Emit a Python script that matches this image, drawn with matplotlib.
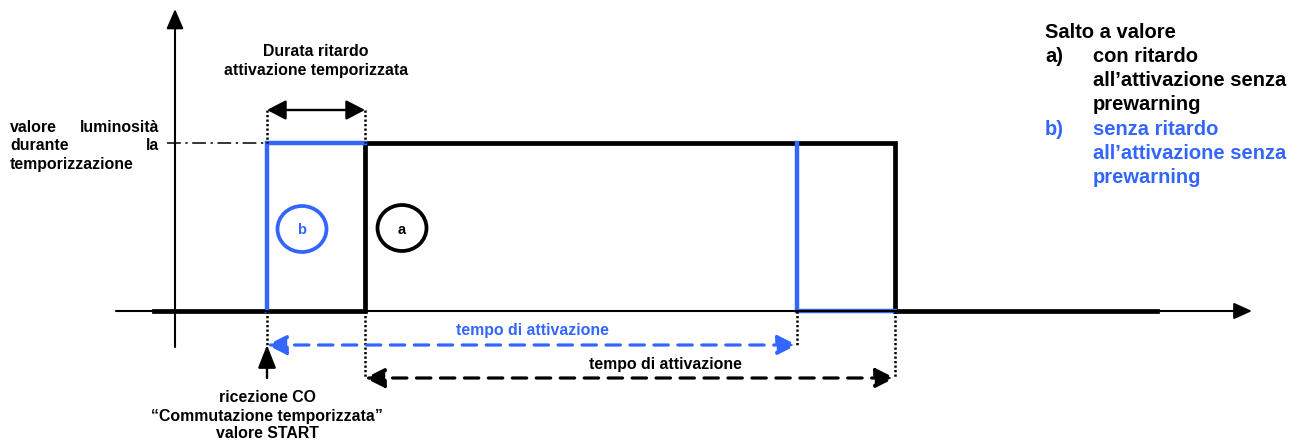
import matplotlib.pyplot as plt
from matplotlib.patches import Ellipse

plt.rcParams['font.family'] = ['Liberation Sans', 'DejaVu Sans']
plt.rcParams['font.weight'] = 'bold'

# timing events (x, pixel units of the drawing)
t_begin = 154          # signal start
t_start = 267          # START telegram received
t_delay_end = 365      # end of activation delay (case a)
t_b_end = 797          # end of activation time, case b
t_a_end = 895          # end of activation time, case a
t_end = 1157           # signal end

# levels (y)
level_off = 311
level_on = 143

# signal a: with delay, signal b: no delay
sig_a_x = [t_begin, t_delay_end, t_delay_end, t_a_end, t_a_end, t_end]
sig_a_y = [level_off, level_off, level_on, level_on, level_off, level_off]
sig_b_x1 = [t_start, t_start, t_delay_end]
sig_b_y1 = [level_off, level_on, level_on]
sig_b_x2 = [t_b_end, t_b_end, t_a_end]
sig_b_y2 = [level_on, level_off, level_off]

BLUE = '#3366ff'

right_lines = [
    ('', 'Salto a valore', 'black'),
    ('a)', 'con ritardo', 'black'),
    ('', 'all\u2019attivazione senza', 'black'),
    ('', 'prewarning', 'black'),
    ('b)', 'senza ritardo', BLUE),
    ('', 'all\u2019attivazione senza', BLUE),
    ('', 'prewarning', BLUE),
]

fig = plt.figure(figsize=(13.14, 4.41), dpi=100)
ax = fig.add_axes([0, 0, 1, 1])
ax.set_xlim(0, 1314)
ax.set_ylim(441, 0)
ax.axis('off')


def arrow(x0, y0, x1, y1, color='black', lw=1.4, ls='-', style='-|>', hl=11, hw=5):
    ax.annotate('', xy=(x1, y1), xytext=(x0, y0),
                arrowprops=dict(arrowstyle=f'{style},head_length={hl},head_width={hw}',
                                mutation_scale=1, lw=lw, color=color, linestyle=ls,
                                shrinkA=0, shrinkB=0))


# axes
arrow(116, level_off, 1252, level_off, lw=1.5, hl=11, hw=5)
arrow(175, 347, 175, 9, lw=1.5, hl=12, hw=5.2)

# dash-dot level marker
ax.plot([167, t_start], [level_on, level_on], color='black', lw=1.1,
        linestyle=(0, (9, 3, 1.5, 3)))

# signals
ax.plot(sig_a_x, sig_a_y, color='black', lw=3.4, solid_joinstyle='miter')
ax.plot(sig_b_x1, sig_b_y1, color=BLUE, lw=3.2, solid_joinstyle='miter')
ax.plot(sig_b_x2, sig_b_y2, color=BLUE, lw=3.2, solid_joinstyle='miter')

# dotted guides
dot = dict(color='black', lw=1.8, linestyle=(0, (0.9, 0.9)))
ax.plot([t_start, t_start], [110, level_on], **dot)
ax.plot([t_delay_end, t_delay_end], [110, level_on], **dot)
ax.plot([t_start, t_start], [level_off, 345], **dot)
ax.plot([t_delay_end, t_delay_end], [level_off, 378], **dot)
ax.plot([t_b_end, t_b_end], [level_off, 345], **dot)
ax.plot([t_a_end, t_a_end], [level_off, 378], **dot)

# delay duration arrow
arrow(t_start, 110, t_delay_end, 110, lw=1.7, style='<|-|>', hl=11.5, hw=6)
ax.text((t_start + t_delay_end) / 2, 52, 'Durata ritardo', ha='center', va='center', fontsize=11.4)
ax.text((t_start + t_delay_end) / 2, 71, 'attivazione temporizzata', ha='center', va='center', fontsize=11.4)

# activation time arrows
dash = (0, (4.5, 3))
arrow(t_start, 345, t_b_end, 345, color=BLUE, lw=2.3, ls=dash, style='<|-|>', hl=12, hw=6)
ax.text(532, 330, 'tempo di attivazione', color=BLUE, ha='center', va='center', fontsize=11.4)
arrow(t_delay_end, 378, t_a_end, 378, color='black', lw=2.3, ls=dash, style='<|-|>', hl=12, hw=6)
ax.text(665, 364, 'tempo di attivazione', color='black', ha='center', va='center', fontsize=11.4)

# START arrow and label
arrow(t_start, 378, t_start, 345, lw=1.7, hl=14, hw=5.5)
ax.text(t_start, 398, 'ricezione CO', ha='center', va='center', fontsize=11.4)
ax.text(t_start, 416, '\u201cCommutazione temporizzata\u201d', ha='center', va='center', fontsize=11.4)
ax.text(t_start, 434, 'valore START', ha='center', va='center', fontsize=11.4)

# level label (justified)
ax.text(10, 128, 'valore', ha='left', va='center', fontsize=11.4)
ax.text(159, 128, 'luminosit\u00e0', ha='right', va='center', fontsize=11.4)
ax.text(10, 146, 'durante', ha='left', va='center', fontsize=11.4)
ax.text(159, 146, 'la', ha='right', va='center', fontsize=11.4)
ax.text(10, 165, 'temporizzazione', ha='left', va='center', fontsize=11.4)

# case markers
ax.add_patch(Ellipse((302, 229), 49, 46, fill=False, edgecolor=BLUE, lw=2.7))
ax.text(302, 230, 'b', color=BLUE, ha='center', va='center', fontsize=10.5)
ax.add_patch(Ellipse((402, 228), 49, 46, fill=False, edgecolor='black', lw=2.7))
ax.text(402, 230, 'a', color='black', ha='center', va='center', fontsize=10.5)

# legend text on the right
for i, (tag, txt, col) in enumerate(right_lines):
    y = 32 + i * 24.3
    if tag:
        ax.text(1045, y, tag, color=col, ha='left', va='center', fontsize=14.5)
    x = 1045 if i == 0 else 1093
    ax.text(x, y, txt, color=col, ha='left', va='center', fontsize=14.5)

fig.savefig('out.png', dpi=100)
